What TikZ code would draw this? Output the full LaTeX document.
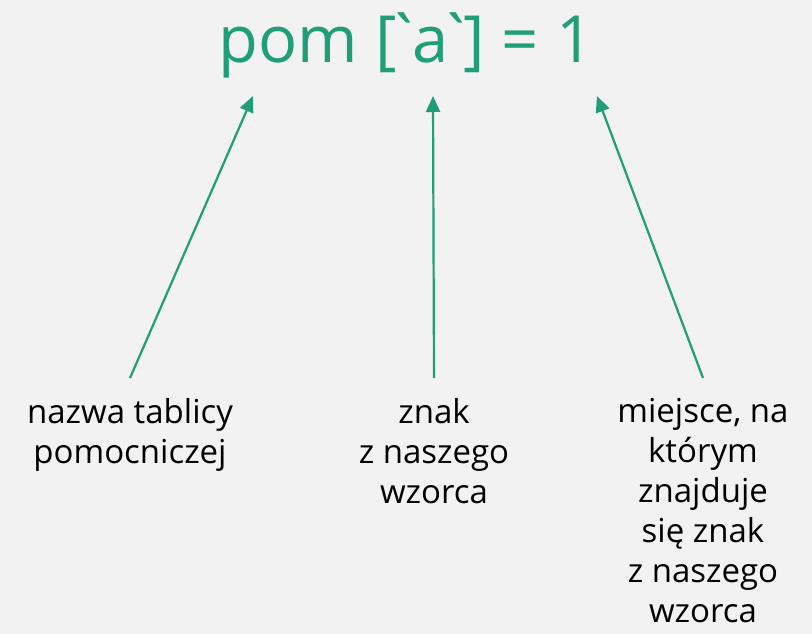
\documentclass[tikz,border=0pt]{standalone}
\usepackage{fontspec}
\newfontfamily\uifont{Open Sans}
\usetikzlibrary{arrows.meta}
\definecolor{bg}{HTML}{F2F2F2}
\definecolor{accent}{HTML}{1F9E78}
\newcommand{\gr}{\kern-11pt`\kern-11pt}
\tikzset{
  title/.style={font=\uifont\fontsize{65}{72}\selectfont, text=accent, inner sep=0pt},
  caption/.style={font=\uifont\fontsize{33}{40}\selectfont, text=black, align=center, inner sep=0pt, anchor=north},
  pointer/.style={draw=accent, line width=2.2pt, -{Triangle[length=16pt,width=14pt]}}
}
\begin{document}
\begin{tikzpicture}[x=1pt,y=-1pt]
  \fill[bg] (0,0) rectangle (812,634);
  \useasboundingbox (0,0) rectangle (812,634);
  % expression
  \node[title, anchor=base] (expr) at (406,63) {pom [\gr a\gr] = 1};
  \coordinate (tipA) at (253,96);
  \coordinate (tipB) at (433,96);
  \coordinate (tipC) at (597,96);
  % captions
  \node[caption] (capA) at (130,398) {nazwa tablicy\\pomocniczej};
  \node[caption] (capB) at (434,398) {znak\\z naszego\\wzorca};
  \node[caption] (capC) at (703,398) {miejsce, na\\którym\\znajduje\\się znak\\z naszego\\wzorca};
  \coordinate (baseA) at (130,378);
  \coordinate (baseB) at (434,378);
  \coordinate (baseC) at (703,378);
  % pointers
  \draw[pointer] (baseA) -- (tipA);
  \draw[pointer] (baseB) -- (tipB);
  \draw[pointer] (baseC) -- (tipC);
\end{tikzpicture}
\end{document}
